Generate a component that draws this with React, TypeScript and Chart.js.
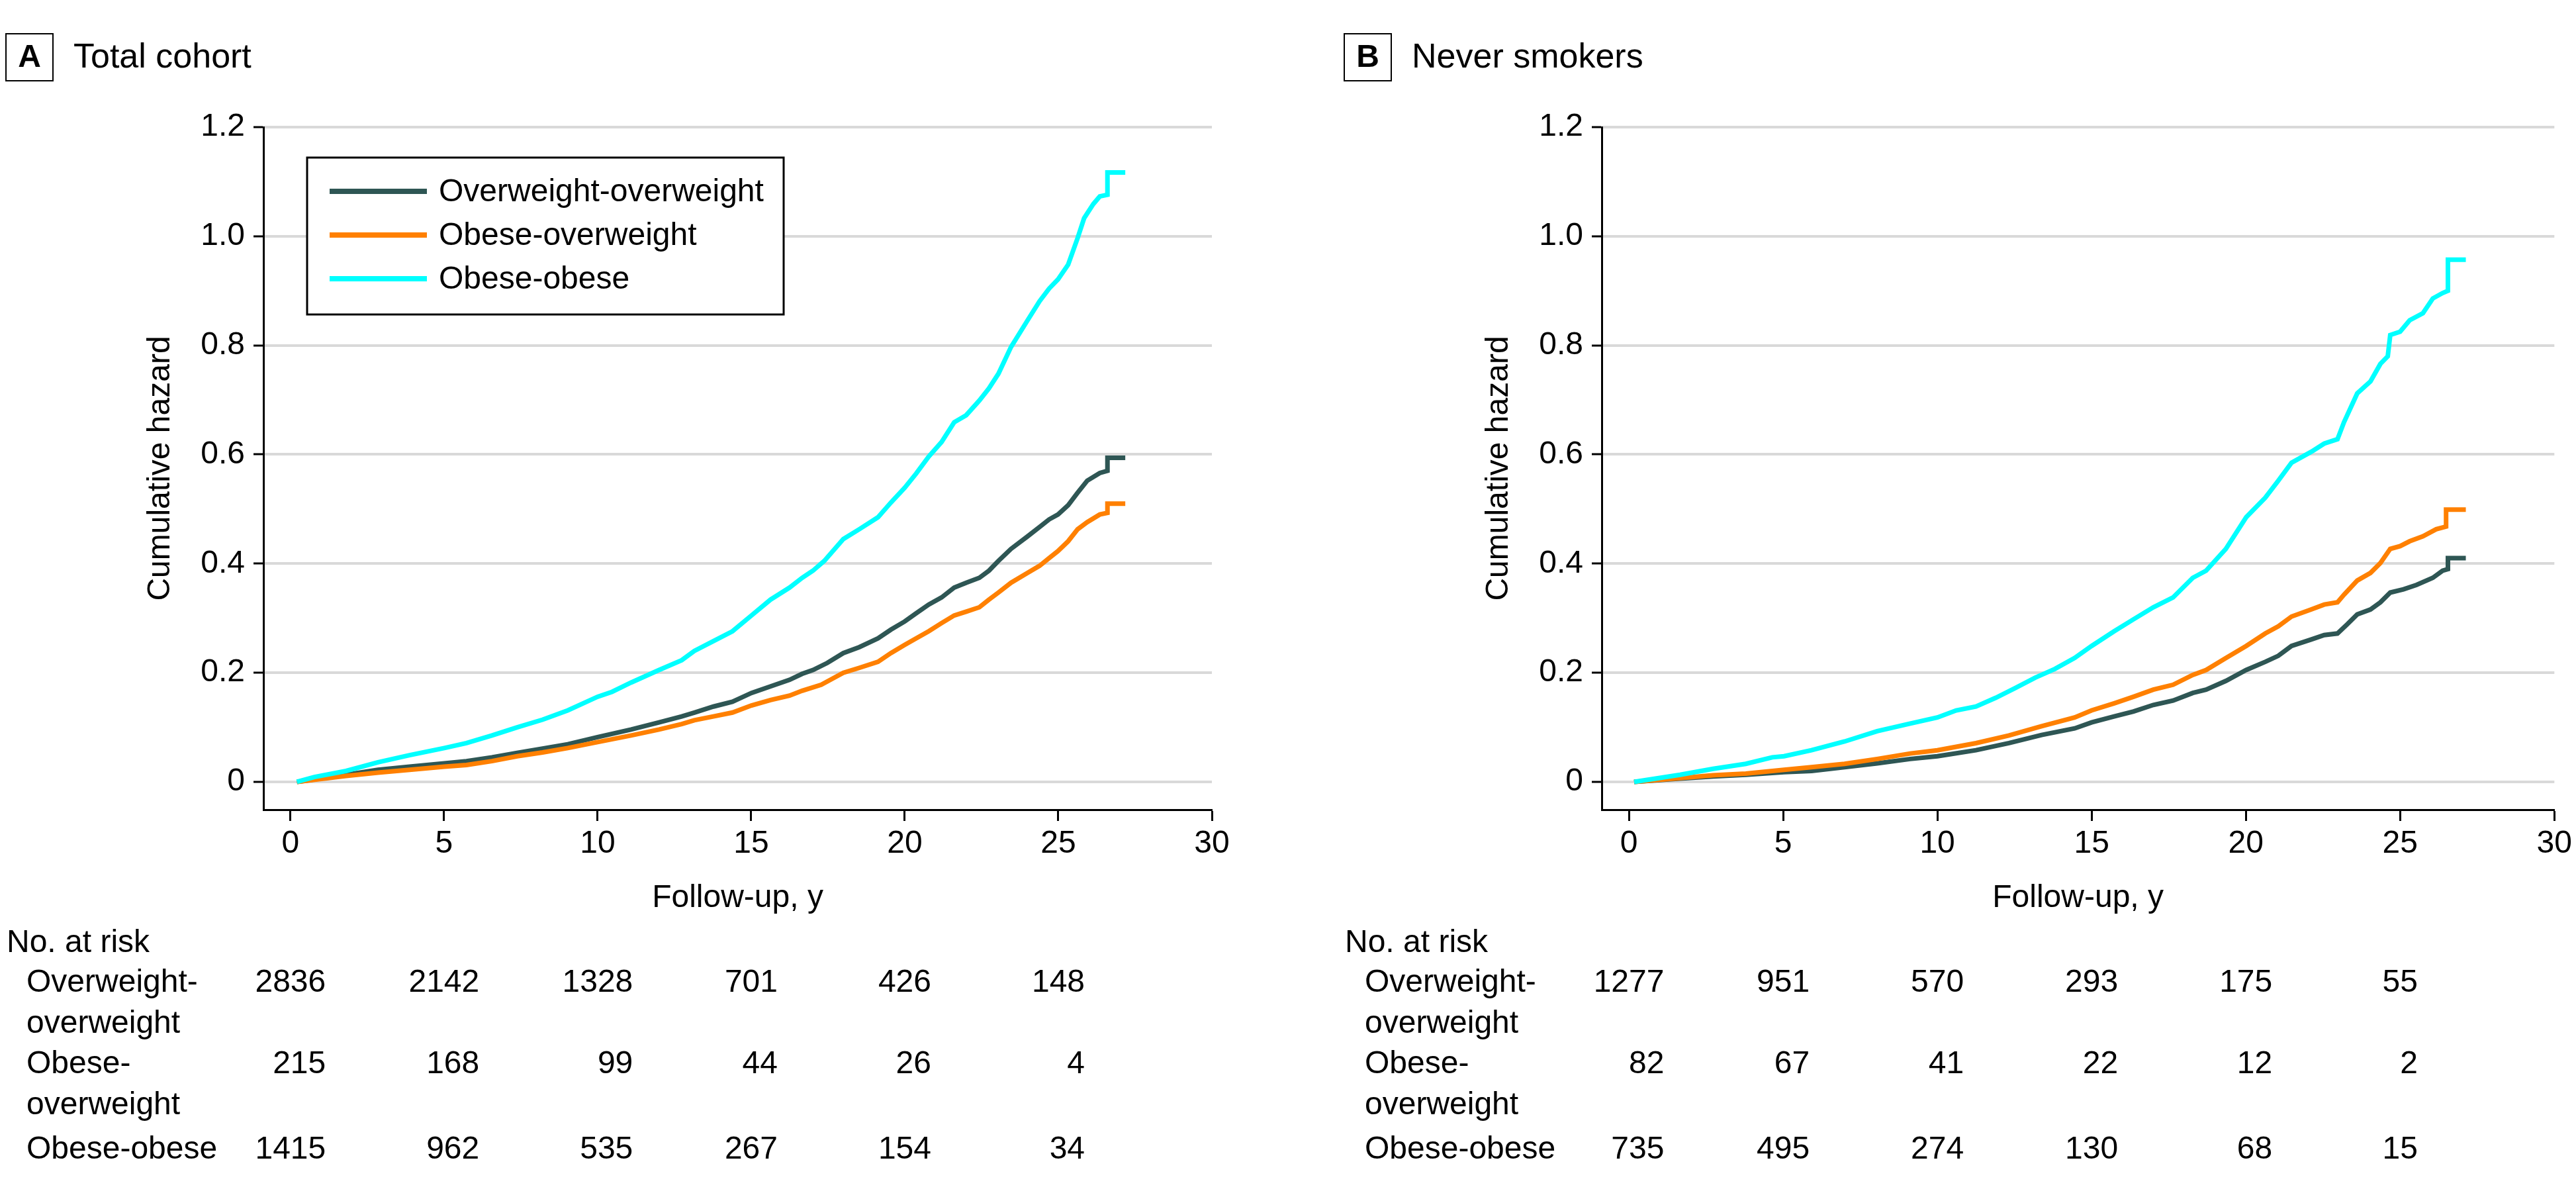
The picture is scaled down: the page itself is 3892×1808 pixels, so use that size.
import React, { useEffect, useRef } from 'react';
import { Chart, registerables } from 'chart.js';

Chart.register(...registerables);

const FONT = '"Liberation Sans", Arial, sans-serif';

const groupLabels = ['Overweight-overweight', 'Obese-overweight', 'Obese-obese'];
const groupColors = ['#2E5654', '#FF8000', '#00FFFF'];
const riskRowLabels = [['Overweight-', 'overweight'], ['Obese-', 'overweight'], ['Obese-obese']];

const xTicks = [0, 5, 10, 15, 20, 25, 30];
const yTicks = [0, 0.2, 0.4, 0.6, 0.8, 1.0, 1.2];
const riskTimes = [0, 5, 10, 15, 20, 25];

// Panel A: Total cohort  [follow-up years, cumulative hazard]
const totalOwOw: [number, number][] = [
  [0.21, 0], [1.81, 0.013], [2.85, 0.022], [3.88, 0.028], [5.01, 0.034], [5.73, 0.038],
  [6.56, 0.045], [7.38, 0.053], [8.21, 0.061], [9.03, 0.069], [10.0, 0.082], [11.09, 0.096],
  [12.0, 0.109], [12.74, 0.12], [13.15, 0.127], [13.77, 0.138], [14.39, 0.147], [15.01, 0.163],
  [15.63, 0.175], [16.25, 0.187], [16.66, 0.198], [17.01, 0.205], [17.48, 0.218], [18.0, 0.236],
  [18.52, 0.247], [19.13, 0.263], [19.55, 0.279], [20.0, 0.294], [20.37, 0.309], [20.78, 0.325],
  [21.2, 0.338], [21.61, 0.356], [22.0, 0.365], [22.43, 0.374], [22.74, 0.387], [23.05, 0.405],
  [23.46, 0.427], [24.0, 0.45], [24.39, 0.467], [24.7, 0.481], [24.99, 0.49], [25.32, 0.507],
  [25.63, 0.53], [25.94, 0.552], [26.35, 0.566], [26.6, 0.57], [26.6, 0.594], [27.18, 0.594],
];
const totalObOw: [number, number][] = [
  [0.21, 0], [1.81, 0.011], [2.85, 0.017], [3.88, 0.022], [5.01, 0.028], [5.73, 0.031],
  [6.56, 0.038], [7.38, 0.047], [8.21, 0.054], [9.03, 0.062], [10.0, 0.073], [11.09, 0.085],
  [12.0, 0.096], [12.74, 0.106], [13.15, 0.113], [13.77, 0.12], [14.39, 0.127], [15.01, 0.14],
  [15.63, 0.15], [16.25, 0.158], [16.66, 0.167], [17.28, 0.178], [18.0, 0.2], [18.52, 0.209],
  [19.13, 0.22], [19.55, 0.236], [20.0, 0.251], [20.37, 0.263], [20.78, 0.276], [21.2, 0.291],
  [21.61, 0.305], [22.0, 0.312], [22.43, 0.32], [22.74, 0.334], [23.05, 0.347], [23.46, 0.365],
  [24.0, 0.383], [24.39, 0.396], [24.7, 0.41], [24.99, 0.423], [25.32, 0.441], [25.63, 0.463],
  [25.94, 0.476], [26.35, 0.49], [26.6, 0.493], [26.6, 0.51], [27.18, 0.51],
];
const totalObOb: [number, number][] = [
  [0.21, 0], [0.78, 0.009], [1.81, 0.02], [2.85, 0.036], [3.88, 0.049], [5.01, 0.062],
  [5.73, 0.071], [6.56, 0.085], [7.38, 0.1], [8.21, 0.114], [9.03, 0.131], [10.0, 0.156],
  [10.47, 0.165], [11.09, 0.182], [12.0, 0.205], [12.74, 0.223], [13.15, 0.24], [13.77, 0.258],
  [14.39, 0.276], [15.01, 0.305], [15.63, 0.334], [16.25, 0.356], [16.66, 0.374], [17.01, 0.387],
  [17.38, 0.405], [18.0, 0.445], [18.52, 0.463], [19.13, 0.485], [19.55, 0.512], [20.0, 0.539],
  [20.37, 0.565], [20.78, 0.596], [21.2, 0.623], [21.61, 0.659], [22.0, 0.672], [22.43, 0.699],
  [22.74, 0.721], [23.05, 0.748], [23.46, 0.797], [24.0, 0.846], [24.39, 0.881], [24.7, 0.904],
  [24.99, 0.921], [25.32, 0.948], [25.63, 0.997], [25.84, 1.033], [26.14, 1.059], [26.35, 1.073],
  [26.6, 1.076], [26.6, 1.117], [27.18, 1.117],
];

// Panel B: Never smokers
const neverOwOw: [number, number][] = [
  [0.17, 0], [1.66, 0.006], [2.73, 0.01], [3.79, 0.013], [5.03, 0.018], [5.92, 0.02],
  [6.99, 0.027], [8.05, 0.034], [9.12, 0.042], [10.0, 0.047], [11.25, 0.058], [12.32, 0.071],
  [13.38, 0.086], [14.45, 0.098], [15.0, 0.109], [15.73, 0.12], [16.36, 0.129], [17.0, 0.141],
  [17.64, 0.149], [18.28, 0.163], [18.71, 0.169], [19.35, 0.185], [20.01, 0.205], [20.63, 0.22],
  [21.05, 0.231], [21.48, 0.249], [22.12, 0.261], [22.54, 0.269], [22.97, 0.272], [23.29, 0.289],
  [23.61, 0.307], [24.04, 0.316], [24.36, 0.329], [24.68, 0.347], [25.11, 0.353], [25.53, 0.361],
  [26.06, 0.374], [26.38, 0.387], [26.55, 0.39], [26.55, 0.41], [27.13, 0.41],
];
const neverObOw: [number, number][] = [
  [0.17, 0], [1.66, 0.007], [2.73, 0.012], [3.79, 0.015], [5.03, 0.022], [5.92, 0.027],
  [6.99, 0.033], [8.05, 0.042], [9.12, 0.052], [10.0, 0.058], [11.25, 0.071], [12.32, 0.085],
  [13.38, 0.102], [14.45, 0.118], [15.0, 0.131], [15.73, 0.144], [16.36, 0.156], [17.0, 0.169],
  [17.64, 0.178], [18.28, 0.196], [18.71, 0.205], [19.35, 0.227], [20.01, 0.249], [20.63, 0.272],
  [21.05, 0.285], [21.48, 0.303], [22.12, 0.316], [22.54, 0.325], [22.97, 0.329], [23.18, 0.343],
  [23.61, 0.369], [24.04, 0.383], [24.36, 0.401], [24.68, 0.427], [25.0, 0.432], [25.31, 0.441],
  [25.74, 0.45], [26.17, 0.463], [26.49, 0.468], [26.49, 0.499], [27.13, 0.499],
];
const neverObOb: [number, number][] = [
  [0.17, 0], [1.66, 0.013], [2.73, 0.024], [3.79, 0.033], [4.65, 0.045], [5.03, 0.047],
  [5.92, 0.058], [6.99, 0.074], [8.05, 0.093], [9.12, 0.107], [10.0, 0.118], [10.61, 0.131],
  [11.25, 0.138], [11.89, 0.154], [12.53, 0.172], [13.17, 0.191], [13.81, 0.207], [14.45, 0.227],
  [15.0, 0.249], [15.73, 0.276], [16.36, 0.298], [17.0, 0.32], [17.64, 0.338], [18.28, 0.374],
  [18.71, 0.387], [19.35, 0.427], [20.01, 0.485], [20.63, 0.521], [21.05, 0.552], [21.48, 0.585],
  [22.12, 0.605], [22.54, 0.62], [22.97, 0.628], [23.18, 0.659], [23.61, 0.712], [24.04, 0.734],
  [24.36, 0.766], [24.6, 0.78], [24.68, 0.819], [25.0, 0.825], [25.31, 0.846], [25.74, 0.859],
  [26.06, 0.886], [26.38, 0.896], [26.55, 0.9], [26.55, 0.957], [27.13, 0.957],
];

// Numbers at risk
const totalRiskOwOw = [2836, 2142, 1328, 701, 426, 148];
const totalRiskObOw = [215, 168, 99, 44, 26, 4];
const totalRiskObOb = [1415, 962, 535, 267, 154, 34];
const neverRiskOwOw = [1277, 951, 570, 293, 175, 55];
const neverRiskObOw = [82, 67, 41, 22, 12, 2];
const neverRiskObOb = [735, 495, 274, 130, 68, 15];

type PanelProps = {
  letter: string;
  title: string;
  series: [number, number][][];
  risk: number[][];
  showLegend: boolean;
  left: number;
  width: number;
  padRight: number;
};

const H = 1808;

function Panel({ letter, title, series, risk, showLegend, left, width, padRight }: PanelProps) {
  const ref = useRef<HTMLCanvasElement>(null);

  useEffect(() => {
    const canvas = ref.current;
    if (!canvas) return;
    const font48 = { family: FONT, size: 48 };

    const decor = {
      id: 'panelDecor',
      afterDraw(chart: any) {
        const ctx = chart.ctx as CanvasRenderingContext2D;
        const ca = chart.chartArea;
        ctx.save();
        // header
        ctx.strokeStyle = '#000';
        ctx.lineWidth = 2;
        ctx.strokeRect(9, 51, 71, 71);
        ctx.fillStyle = '#000';
        ctx.textBaseline = 'middle';
        ctx.textAlign = 'center';
        ctx.font = `bold 48px ${FONT}`;
        ctx.fillText(letter, 44.5, 88);
        ctx.textAlign = 'left';
        ctx.font = `52px ${FONT}`;
        ctx.fillText(title, 111, 88);

        // legend
        if (showLegend) {
          const bx = ca.left + 66;
          const by = ca.top + 46;
          const bw = 720;
          const bh = 237;
          ctx.fillStyle = '#fff';
          ctx.fillRect(bx, by, bw, bh);
          ctx.strokeStyle = '#000';
          ctx.lineWidth = 3;
          ctx.strokeRect(bx, by, bw, bh);
          ctx.font = `48px ${FONT}`;
          ctx.textAlign = 'left';
          ctx.textBaseline = 'middle';
          groupLabels.forEach((lab, i) => {
            const yy = by + 51 + i * 66;
            ctx.strokeStyle = groupColors[i];
            ctx.lineWidth = 8;
            ctx.beginPath();
            ctx.moveTo(bx + 34, yy);
            ctx.lineTo(bx + 181, yy);
            ctx.stroke();
            ctx.fillStyle = '#000';
            ctx.fillText(lab, bx + 199, yy + 2);
          });
        }

        // number at risk table
        const xs = chart.scales.x;
        ctx.fillStyle = '#000';
        ctx.font = `48px ${FONT}`;
        ctx.textBaseline = 'middle';
        ctx.textAlign = 'left';
        ctx.fillText('No. at risk', 10, 1425);
        const rowY = [1485, 1608, 1737];
        riskRowLabels.forEach((lines, r) => {
          lines.forEach((ln, k) => {
            ctx.fillText(ln, 40, rowY[r] + k * 62);
          });
        });
        ctx.textAlign = 'right';
        riskTimes.forEach((t, c) => {
          let maxW = 0;
          risk.forEach((row) => {
            maxW = Math.max(maxW, ctx.measureText(String(row[c])).width);
          });
          const rx = xs.getPixelForValue(t) + maxW / 2;
          risk.forEach((row, r) => {
            ctx.fillText(String(row[c]), rx, rowY[r]);
          });
        });
        ctx.restore();
      },
    };

    const chart = new Chart(canvas, {
      type: 'line',
      data: {
        datasets: series.map((pts, i) => ({
          label: groupLabels[i],
          data: pts.map(([x, y]) => ({ x, y })),
          borderColor: groupColors[i],
          backgroundColor: groupColors[i],
          borderWidth: 7,
          pointRadius: 0,
          stepped: false,
          tension: 0,
          fill: false,
          order: 2 - i,
          borderCapStyle: 'butt',
          borderJoinStyle: 'miter',
        })),
      } as any,
      options: {
        responsive: false,
        animation: false,
        devicePixelRatio: 1,
        layout: { padding: { left: 0, top: 192, right: padRight, bottom: H - 1386 } },
        plugins: { legend: { display: false }, tooltip: { enabled: false } },
        scales: {
          x: {
            type: 'linear',
            min: -0.88,
            max: 30,
            afterBuildTicks: (s: any) => {
              s.ticks = xTicks.map((v) => ({ value: v }));
            },
            afterFit: (s: any) => {
              s.height = 163;
            },
            grid: {
              display: true,
              drawOnChartArea: false,
              drawTicks: true,
              tickLength: 17,
              tickColor: '#000',
              tickWidth: 3,
            },
            border: { display: true, color: '#000', width: 3 },
            ticks: {
              color: '#000',
              font: font48,
              padding: 6,
              maxRotation: 0,
              autoSkip: false,
              callback: (v: any) => String(v),
            },
            title: { display: true, text: 'Follow-up, y', color: '#000', font: font48, padding: 0 },
          },
          y: {
            type: 'linear',
            min: -0.051,
            max: 1.2,
            afterBuildTicks: (s: any) => {
              s.ticks = yTicks.map((v) => ({ value: v }));
            },
            afterFit: (s: any) => {
              s.width = 398;
            },
            grid: {
              color: '#d9d9d9',
              lineWidth: 4,
              drawTicks: true,
              tickLength: 15,
              tickColor: '#000',
              tickWidth: 3,
            },
            border: { display: true, color: '#000', width: 3 },
            ticks: {
              color: '#000',
              font: font48,
              padding: 13,
              autoSkip: false,
              callback: (v: any) => (Number(v) === 0 ? '0' : Number(v).toFixed(1)),
            },
            title: {
              display: true,
              text: 'Cumulative hazard',
              color: '#000',
              font: font48,
              padding: { top: 214, bottom: 0 },
            },
          },
        },
      } as any,
      plugins: [decor],
    });
    return () => chart.destroy();
  }, []);

  return (
    <canvas
      ref={ref}
      width={width}
      height={H}
      style={{ position: 'absolute', left, top: 0, width, height: H, display: 'block' }}
    />
  );
}

export default function App() {
  return (
    <div style={{ position: 'absolute', left: 0, top: 0, width: 3892, height: H, background: '#fff' }}>
      <Panel
        letter="A"
        title="Total cohort"
        series={[totalOwOw, totalObOw, totalObOb]}
        risk={[totalRiskOwOw, totalRiskObOw, totalRiskObOb]}
        showLegend={true}
        left={0}
        width={2022}
        padRight={191}
      />
      <Panel
        letter="B"
        title="Never smokers"
        series={[neverOwOw, neverObOw, neverObOb]}
        risk={[neverRiskOwOw, neverRiskObOw, neverRiskObOb]}
        showLegend={false}
        left={2022}
        width={1870}
        padRight={30}
      />
    </div>
  );
}
